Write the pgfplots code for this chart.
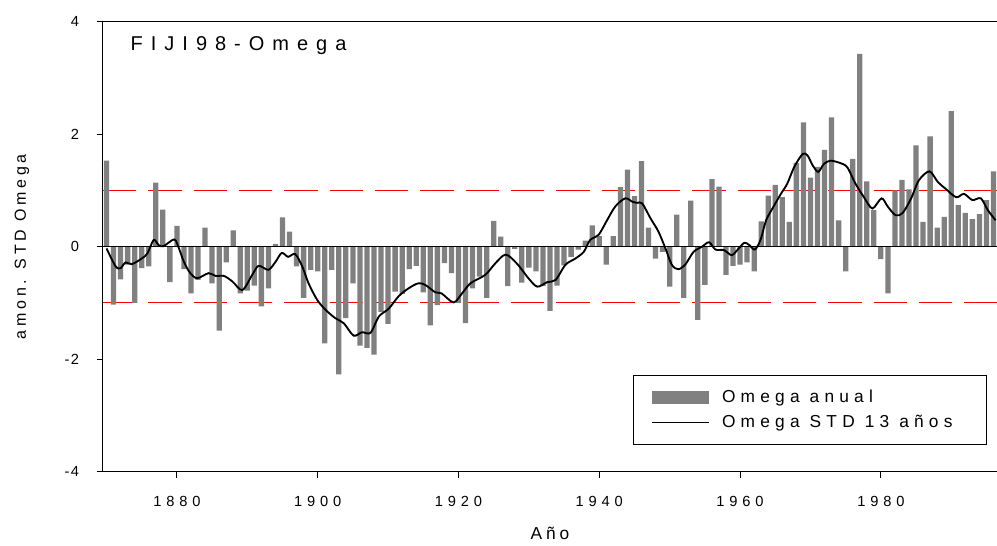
\documentclass[border=0pt]{standalone}
\usepackage{fontspec}
\setmainfont{Liberation Sans}
\newfontfamily\tickfont[LetterSpace=33]{Liberation Sans}
\newfontfamily\ytickfont[LetterSpace=8]{Liberation Sans}
\newfontfamily\legfont[LetterSpace=30]{Liberation Sans}
\newfontfamily\titlefont[LetterSpace=40]{Liberation Sans}
\newfontfamily\labfont[LetterSpace=23]{Liberation Sans}
\usepackage{pgfplots}
\pgfplotsset{compat=1.18}
\usepackage{pgfplotstable}

\definecolor{bargray}{RGB}{128,128,128}
\definecolor{refred}{RGB}{255,0,0}

% annual Omega index
\pgfplotstableread{
year anual
1870 1.53
1871 -1.03
1872 -0.58
1873 -0.32
1874 -1.00
1875 -0.38
1876 -0.35
1877 1.14
1878 0.66
1879 -0.63
1880 0.37
1881 -0.40
1882 -0.83
1883 -0.59
1884 0.34
1885 -0.65
1886 -1.49
1887 -0.28
1888 0.29
1889 -0.83
1890 -0.78
1891 -0.69
1892 -1.06
1893 -0.74
1894 0.05
1895 0.52
1896 0.27
1897 -0.35
1898 -0.91
1899 -0.41
1900 -0.44
1901 -1.72
1902 -0.41
1903 -2.27
1904 -1.27
1905 -0.65
1906 -1.76
1907 -1.80
1908 -1.92
1909 -1.16
1910 -1.37
1911 -0.80
1912 -0.84
1913 -0.40
1914 -0.34
1915 -0.81
1916 -1.40
1917 -1.04
1918 -0.29
1919 -0.47
1920 -1.00
1921 -1.36
1922 -0.74
1923 -0.53
1924 -0.91
1925 0.46
1926 0.18
1927 -0.70
1928 -0.04
1929 -0.64
1930 -0.37
1931 -0.44
1932 -0.70
1933 -1.14
1934 -0.69
1935 -0.33
1936 -0.18
1937 -0.05
1938 0.11
1939 0.38
1940 0.19
1941 -0.32
1942 0.19
1943 1.06
1944 1.37
1945 0.90
1946 1.52
1947 0.34
1948 -0.21
1949 -0.09
1950 -0.71
1951 0.57
1952 -0.91
1953 0.82
1954 -1.30
1955 -0.68
1956 1.20
1957 1.07
1958 -0.50
1959 -0.34
1960 -0.32
1961 -0.28
1962 -0.44
1963 0.45
1964 0.91
1965 1.10
1966 0.88
1967 0.44
1968 1.49
1969 2.21
1970 1.23
1971 1.42
1972 1.72
1973 2.30
1974 0.47
1975 -0.44
1976 1.56
1977 3.43
1978 1.16
1979 0.65
1980 -0.22
1981 -0.83
1982 1.00
1983 1.19
1984 1.02
1985 1.80
1986 0.44
1987 1.96
1988 0.34
1989 0.53
1990 2.41
1991 0.74
1992 0.60
1993 0.49
1994 0.58
1995 0.83
1996 1.34
}\anualdata

% 13-year standardized Omega
\pgfplotstableread{
year std
1870.0 -0.03
1871.3 -0.35
1872.0 -0.38
1872.7 -0.28
1873.6 -0.31
1875.0 -0.21
1875.8 -0.12
1876.7 0.12
1877.4 0.03
1878.1 0.01
1879.6 0.13
1880.2 0.00
1881.0 -0.27
1881.9 -0.47
1882.9 -0.56
1884.5 -0.47
1885.5 -0.52
1886.7 -0.52
1887.9 -0.62
1889.3 -0.77
1890.7 -0.50
1891.6 -0.34
1893.0 -0.41
1894.0 -0.27
1894.9 -0.11
1895.8 -0.18
1896.8 -0.13
1897.8 -0.35
1898.7 -0.65
1899.9 -0.94
1901.1 -1.12
1902.5 -1.27
1903.7 -1.36
1905.1 -1.58
1906.3 -1.52
1907.5 -1.53
1908.7 -1.24
1910.1 -1.10
1911.5 -0.88
1912.9 -0.74
1914.3 -0.65
1915.3 -0.68
1916.7 -0.81
1917.6 -0.83
1919.3 -0.99
1920.5 -0.83
1921.7 -0.65
1923.8 -0.50
1925.2 -0.30
1926.7 -0.14
1928.3 -0.30
1930.0 -0.57
1931.2 -0.71
1932.6 -0.63
1933.8 -0.59
1935.2 -0.32
1936.6 -0.21
1937.8 -0.09
1938.7 0.12
1939.9 0.21
1941.1 0.47
1942.3 0.72
1943.7 0.86
1944.7 0.80
1945.4 0.78
1946.1 0.77
1947.3 0.50
1948.4 0.27
1949.4 -0.03
1950.3 -0.32
1951.2 -0.40
1952.2 -0.32
1953.4 -0.09
1954.6 0.00
1955.6 0.08
1956.5 -0.05
1957.7 -0.06
1958.8 -0.15
1959.6 -0.06
1960.6 0.07
1961.3 0.03
1962.1 -0.05
1962.9 0.12
1963.7 0.47
1964.6 0.68
1965.8 0.94
1966.7 1.12
1967.7 1.42
1968.9 1.65
1969.6 1.62
1970.3 1.45
1971.1 1.33
1971.9 1.47
1972.9 1.53
1974.6 1.47
1975.3 1.40
1976.4 1.12
1977.6 0.88
1978.8 0.68
1980.1 0.86
1981.0 0.71
1982.1 0.56
1983.1 0.60
1984.3 0.86
1985.4 1.18
1986.9 1.34
1988.1 1.15
1989.2 1.03
1990.7 0.88
1991.8 0.94
1993.0 0.83
1994.2 0.86
1995.2 0.65
1996.3 0.47
}\stddata

\begin{document}
\begin{tikzpicture}
\useasboundingbox (-77.25pt,-55pt) rectangle (670.5pt,353.8pt);
\begin{axis}[
  at={(0,0)}, anchor=south west,
  scale only axis, width=670.5pt, height=337.5pt,
  xmin=1869.5, xmax=1996.5, ymin=-4, ymax=4,
  axis x line*=box, axis y line*=left,
  axis line style={line width=0.75pt},
  xtick={1880,1900,1920,1940,1960,1980},
  xticklabels={1880,1900,1920,1940,1960,1980},
  ytick={-4,-2,0,2,4},
  yticklabels={-4,-2,0,2,4},
  xtick pos=left, ytick pos=left,
  tick align=outside, major tick length=4.5pt,
  tick style={black, line width=0.75pt},
  xticklabel style={anchor=center, yshift=-18pt,
    font=\tickfont\fontsize{11}{13}\selectfont},
  yticklabel style={anchor=east, xshift=-10pt,
    font=\ytickfont\fontsize{11}{13}\selectfont},
  xlabel={Año},
  xlabel style={at={(rel axis cs:0.5,-0.138)}, anchor=center,
    font=\labfont\fontsize{13}{15}\selectfont},
  ylabel={amon. STD Omega},
  ylabel style={at={(rel axis cs:-0.0906,0.5)}, anchor=center,
    font=\labfont\fontsize{12}{14}\selectfont},
  legend style={at={(rel axis cs:0.9888,0.0593)}, anchor=south east,
    draw=black, line width=0.75pt, fill=white,
    font=\legfont\fontsize{13}{15}\selectfont,
    inner xsep=13.5pt, inner ysep=9pt, row sep=4pt},
  legend cell align=left,
  clip=true,
]
% reference lines at 0 and +-1
\addplot[refred, line width=0.75pt, dash pattern=on 25pt off 9pt, forget plot]
  coordinates {(1869.5,1) (1996.5,1)};
\addplot[refred, line width=0.75pt, dash pattern=on 25pt off 9pt, forget plot]
  coordinates {(1869.5,-1) (1996.5,-1)};

\addplot[ybar, bar width=0.75, fill=bargray, draw=none,
  legend image code/.code={\fill[bargray] (0pt,-5.1pt) rectangle (42.75pt,5.1pt);
    \path (49.5pt,0pt);}]
  table[x=year, y=anual] {\anualdata};

\addplot[black, line width=0.75pt, forget plot]
  coordinates {(1869.5,0) (1996.5,0)};

\addplot[black, line width=1.4pt, smooth,
  legend image code/.code={\draw[black, line width=1pt] (0pt,0pt) -- (42.75pt,0pt);
    \path (49.5pt,0pt);}]
  table[x=year, y=std] {\stddata};

\legend{Omega anual, Omega STD 13 años\kern10pt}

\node[anchor=west, font=\titlefont\fontsize{15}{17}\selectfont]
  at (rel axis cs:0.0257,0.946) {FIJI98-Omega};
\end{axis}
\end{tikzpicture}
\end{document}
